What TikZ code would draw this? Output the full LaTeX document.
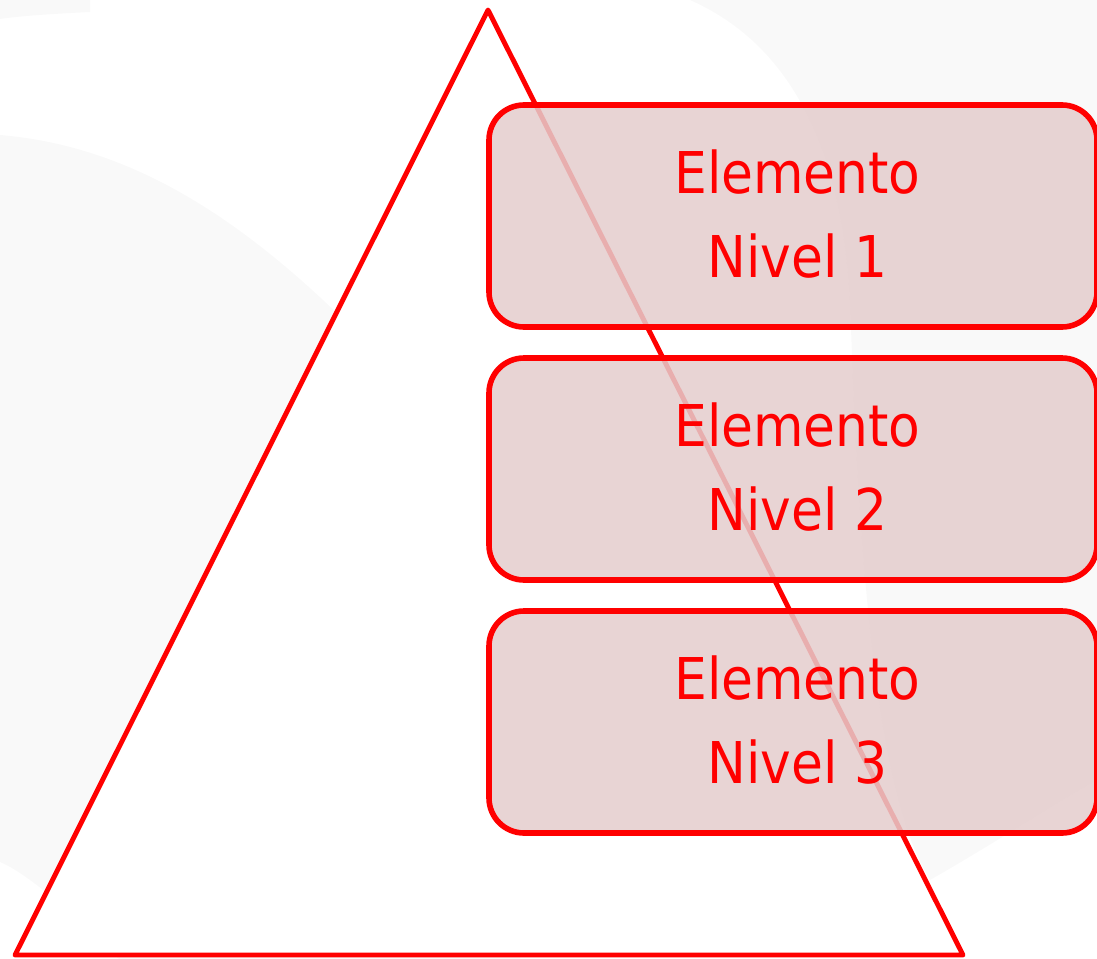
\documentclass[tikz,border=0pt]{standalone}
\usepackage{fontspec}
\setmainfont{DejaVu Sans Condensed}
\usetikzlibrary{calc}
\definecolor{bgray}{RGB}{249,249,249}
\definecolor{pyrred}{RGB}{255,0,0}
\definecolor{boxfill}{RGB}{228,205,205}
\tikzset{
  lvlbox/.style={draw=pyrred, line width=5.6pt, fill=boxfill, fill opacity=0.85,
    rounded corners=35pt, minimum width=608pt, minimum height=222pt, inner sep=0pt},
  lvltext/.style={text=pyrred, align=center, inner sep=0pt,
    font=\fontsize{57.6}{84}\selectfont},
  pyr/.style={draw=pyrred, line width=4.9pt, fill=white, line join=round}
}
\begin{document}
\begin{tikzpicture}[x=1pt,y=-1pt]
\useasboundingbox (0,0) rectangle (1097,958);
% faint background shapes
\fill[bgray] (0,135) .. controls (180,150) and (330,280) .. (520,520)
  -- (520,960) -- (120,960) .. controls (60,900) and (20,870) .. (0,862) -- cycle;
\fill[bgray] (690,0) .. controls (780,40) and (840,130) .. (850,300)
  .. controls (860,600) and (880,800) .. (930,880)
  .. controls (1000,840) and (1060,800) .. (1097,780) -- (1097,0) -- cycle;
\fill[bgray] (0,0) -- (90,0) -- (90,12) .. controls (50,14) and (20,16) .. (0,19) -- cycle;
% pyramid
\coordinate (apex) at (488,10);
\coordinate (bl) at (15,955);
\coordinate (br) at (963,955);
\draw[pyr] (apex) -- (bl) -- (br) -- cycle;
% level boxes
\node[lvlbox] (b1) at (793,216) {};
\node[lvlbox] (b2) at (793,469) {};
\node[lvlbox] (b3) at (793,722) {};
\node[lvltext] (t1) at ($(b1.center)+(4.5,-2)$) {Elemento\\Nivel 1};
\node[lvltext] (t2) at ($(b2.center)+(4.5,-2)$) {Elemento\\Nivel 2};
\node[lvltext] (t3) at ($(b3.center)+(4.5,-2)$) {Elemento\\Nivel 3};
\end{tikzpicture}
\end{document}
